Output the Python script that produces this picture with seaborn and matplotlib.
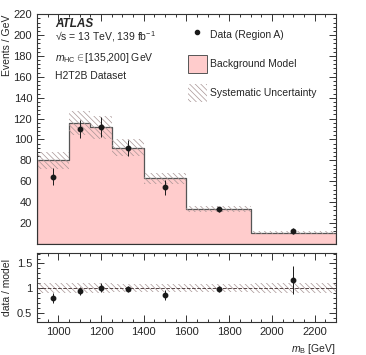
import numpy as np
import matplotlib
matplotlib.use("Agg")
import matplotlib.pyplot as plt
import seaborn as sns
from matplotlib.lines import Line2D
from matplotlib.patches import Patch
from matplotlib.ticker import MultipleLocator

# binning and values
bin_edges = [900, 1050, 1150, 1250, 1400, 1600, 1900, 2300]
bkg_model = [80.2, 116.0, 111.5, 92.2, 62.8, 33.7, 10.9]
syst_frac = [0.10, 0.10, 0.10, 0.09, 0.08, 0.08, 0.10]

data_x = [975, 1100, 1200, 1325, 1500, 1750, 2100]
data_y = [64.4, 109.7, 111.9, 91.6, 54.2, 33.0, 12.5]
data_err = [8.0, 8.5, 10.0, 7.5, 7.0, 2.5, 3.0]

ratio_y = [0.79, 0.945, 1.01, 0.98, 0.86, 0.98, 1.16]
ratio_err = [0.10, 0.08, 0.09, 0.07, 0.10, 0.07, 0.29]

sns.set_theme(style="ticks")
plt.rcParams["font.family"] = ["Liberation Sans", "DejaVu Sans"]
plt.rcParams["mathtext.fontset"] = "custom"
plt.rcParams["mathtext.rm"] = "Liberation Sans"
plt.rcParams["mathtext.it"] = "Liberation Sans:italic"
plt.rcParams["hatch.linewidth"] = 0.5
plt.rcParams["font.size"] = 7

edge_col = "#555555"
pink = "#ffcccc"
hatch_col = "#a89595"
hatch = "\\" * 6

fig = plt.figure(figsize=(3.66, 3.55), dpi=100)
ax = fig.add_axes([0.101, 0.313, 0.817, 0.647])
rax = fig.add_axes([0.101, 0.093, 0.817, 0.194])

# background model as step histogram
centers = [(a + b) / 2 for a, b in zip(bin_edges[:-1], bin_edges[1:])]
sns.histplot(x=centers, weights=bkg_model, bins=bin_edges, element="step",
             fill=True, color=pink, alpha=1, edgecolor=edge_col, linewidth=0.9, ax=ax)

# systematic band
bkg = np.array(bkg_model)
frac = np.array(syst_frac)
lo = np.append(bkg * (1 - frac), bkg[-1] * (1 - frac[-1]))
hi = np.append(bkg * (1 + frac), bkg[-1] * (1 + frac[-1]))
ax.fill_between(bin_edges, lo, hi, step="post", facecolor="none",
                edgecolor=hatch_col, hatch=hatch, linewidth=0)

ax.errorbar(data_x, data_y, yerr=data_err, fmt="o", color="k", ms=3.2,
            elinewidth=0.7, capsize=0)

ax.set_xlim(900, 2300)
ax.set_ylim(0, 220)
ax.set_ylabel("Events / GeV", loc="top", fontsize=7.5)
ax.yaxis.set_label_coords(-0.085, 1.0)
ax.set_xlabel("")
ax.yaxis.set_minor_locator(MultipleLocator(4))
ax.set_yticks(range(20, 221, 20))
ax.tick_params(labelbottom=False)

# ratio panel
r_lo = np.append(1 - frac, 1 - frac[-1])
r_hi = np.append(1 + frac, 1 + frac[-1])
rax.fill_between(bin_edges, r_lo, r_hi, step="post", facecolor="none",
                 edgecolor=hatch_col, hatch=hatch, linewidth=0)
rax.axhline(1, color="#554444", ls="--", lw=0.7)
rax.errorbar(data_x, ratio_y, yerr=ratio_err, fmt="o", color="k", ms=3.2,
             elinewidth=0.7, capsize=0)
rax.set_xlim(900, 2300)
rax.set_ylim(0.31, 1.71)
rax.set_yticks([0.5, 1, 1.5])
rax.set_yticklabels(["0.5", "1", "1.5"])
rax.yaxis.set_minor_locator(MultipleLocator(0.1))
rax.set_ylabel("data / model", fontsize=7.5)
rax.yaxis.set_label_coords(-0.085, 0.5)
rax.set_xlabel("$m_{\\mathrm{B}}$ [GeV]", loc="right", fontsize=7.5)

for a in (ax, rax):
    a.xaxis.set_major_locator(MultipleLocator(200))
    a.xaxis.set_minor_locator(MultipleLocator(50))
    a.tick_params(which="both", direction="in", top=True, right=True,
                  labelsize=8, color="#333333", width=0.7)
    a.tick_params(which="major", length=5)
    a.tick_params(which="minor", length=2.5)
    for s in a.spines.values():
        s.set_color("#333333")
        s.set_linewidth(0.8)
rax.set_xticks(range(1000, 2201, 200))

# labels
ax.text(0.06, 0.957, "ATLAS", transform=ax.transAxes, fontsize=8.5,
        fontweight="bold", fontstyle="italic", va="center")
ax.text(0.06, 0.902, "\u221as = 13 TeV, 139 fb$^{-1}$", transform=ax.transAxes,
        fontsize=7.5, va="center")
ax.text(0.06, 0.808, "$m_{\\mathrm{HC}}\\in$[135,200] GeV", transform=ax.transAxes,
        fontsize=7.5, va="center")
ax.text(0.06, 0.731, "H2T2B Dataset", transform=ax.transAxes,
        fontsize=7.5, va="center")

handles = [
    Line2D([], [], marker="o", ls="none", color="k", ms=3),
    Patch(facecolor=pink, edgecolor=edge_col, linewidth=0.7),
    Patch(facecolor="none", edgecolor=hatch_col, hatch=hatch, linewidth=0),
]
labels = ["Data (Region A)", "Background Model", "Systematic Uncertainty"]
ax.legend(handles, labels, loc="upper left", bbox_to_anchor=(0.475, 0.99),
          frameon=False, fontsize=7.5, handlelength=1.75, handleheight=2.3,
          labelspacing=1.05, handletextpad=0.3)

fig.savefig("out.png", dpi=100)
